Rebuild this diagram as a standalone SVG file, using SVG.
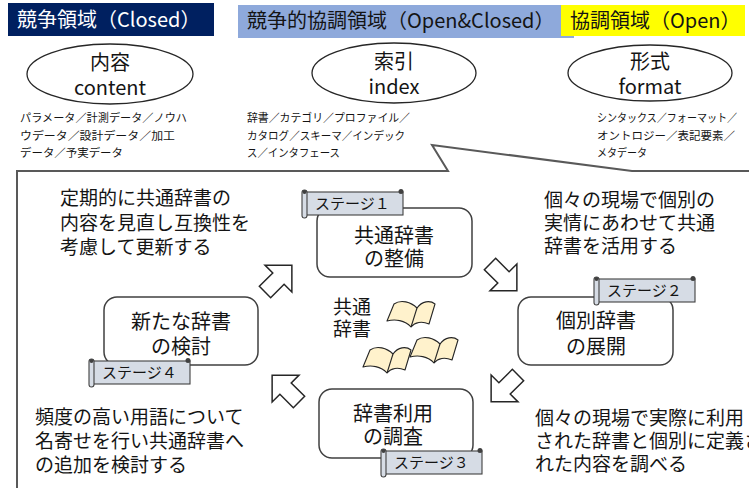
<svg xmlns="http://www.w3.org/2000/svg" xmlns:xlink="http://www.w3.org/1999/xlink" width="749" height="488" viewBox="0 0 749 488">
  <style>
    text { font-family: "Noto Sans CJK JP", "Noto Sans", sans-serif; fill: #141414; }
    .hdr { font-size: 20px; }
    .ell { fill: #fff; stroke: #262626; stroke-width: 1.3; }
    .ellt { font-size: 20px; text-anchor: middle; }
    .list { font-size: 11.2px; }
    .callout { fill: none; stroke: #595959; stroke-width: 2; }
    .desc { font-size: 19px; }
    .box { fill: #fff; stroke: #404040; stroke-width: 1.5; }
    .boxt { font-size: 20px; text-anchor: middle; }
    .stage { font-size: 15px; }
    .arrow { fill: #fff; stroke: #262626; stroke-width: 1.5; stroke-linejoin: miter; }
    .book { fill: #FFF2CC; stroke: #262626; stroke-width: 1.1; stroke-linejoin: round; }
    .roll { fill: #D6DCE5; stroke: #404040; stroke-width: 1.1; }
  </style>
  <defs>
    <!-- horizontal scroll banner used for the stage labels -->
    <g id="scroll">
      <rect class="roll" x="4" y="3" width="97" height="23"/>
      <rect class="roll" x="0" y="1" width="5" height="28" rx="2.5"/>
      <circle cx="2.5" cy="3" r="2" fill="#404040"/>
      <circle cx="99" cy="2.5" r="2.5" fill="#404040"/>
    </g>
    <!-- open book -->
    <g id="book">
      <path class="book" d="M0,0 L7,-17 C14,-22 24,-19 30,-13 C35,-20 43,-21 48,-17 L42,3 C35,0 28,1 24,6 C18,-1 8,-2 0,0 Z"/>
      <path class="book" d="M30,-13 L24,6" fill="none"/>
    </g>
    <!-- hollow block arrow pointing along +x -->
    <path id="blk" class="arrow" d="M0,-8 L19,-8 L19,-19 L38,0 L19,19 L19,8 L0,8 Z"/>
  </defs>

  <!-- header bands -->
  <g id="hdr-closed">
    <rect x="8" y="3" width="206" height="33" fill="#002060"/>
    <text class="hdr" x="17" y="27" style="fill:#fff">競争領域（Closed）</text>
  </g>
  <g id="hdr-mixed">
    <rect x="238" y="5" width="336" height="33" fill="#8EA9DB"/>
    <text class="hdr" x="247" y="28">競争的協調領域（Open&amp;Closed）</text>
  </g>
  <g id="hdr-open">
    <rect x="561" y="5" width="184" height="31" fill="#FFFF00"/>
    <text class="hdr" x="570" y="28">協調領域（Open）</text>
  </g>

  <!-- layers -->
  <g id="content">
    <ellipse class="ell" cx="110" cy="74" rx="83" ry="30"/>
    <text class="ellt" x="110" y="70">内容</text>
    <text class="ellt" x="110" y="95">content</text>
    <text class="list" x="20" y="122" textLength="167" lengthAdjust="spacingAndGlyphs">パラメータ／計測データ／ノウハ</text>
    <text class="list" x="20" y="140" textLength="155" lengthAdjust="spacingAndGlyphs">ウデータ／設計データ／加工</text>
    <text class="list" x="20" y="157" textLength="103" lengthAdjust="spacingAndGlyphs">データ／予実データ</text>
  </g>
  <g id="index">
    <ellipse class="ell" cx="394" cy="73" rx="82" ry="30"/>
    <text class="ellt" x="394" y="69">索引</text>
    <text class="ellt" x="394" y="94">index</text>
    <text class="list" x="247" y="122" textLength="163" lengthAdjust="spacingAndGlyphs">辞書／カテゴリ／プロファイル／</text>
    <text class="list" x="247" y="140" textLength="158" lengthAdjust="spacingAndGlyphs">カタログ／スキーマ／インデック</text>
    <text class="list" x="247" y="157" textLength="93" lengthAdjust="spacingAndGlyphs">ス／インタフェース</text>
  </g>
  <g id="format">
    <ellipse class="ell" cx="650" cy="73" rx="82" ry="28"/>
    <text class="ellt" x="650" y="69">形式</text>
    <text class="ellt" x="650" y="94">format</text>
    <text class="list" x="597" y="122" textLength="140" lengthAdjust="spacingAndGlyphs">シンタックス／フォーマット／</text>
    <text class="list" x="597" y="140" textLength="138" lengthAdjust="spacingAndGlyphs">オントロジー／表記要素／</text>
    <text class="list" x="597" y="157" textLength="50" lengthAdjust="spacingAndGlyphs">メタデータ</text>
  </g>

  <!-- callout frame pointing at the index layer -->
  <path class="callout" d="M17,495 L17,171 L448,171 L432,145 L632,171 L755,171"/>

  <!-- cycle descriptions -->
  <g id="desc-update">
    <text class="desc" x="60" y="205">定期的に共通辞書の</text>
    <text class="desc" x="60" y="230">内容を見直し互換性を</text>
    <text class="desc" x="60" y="254">考慮して更新する</text>
  </g>
  <g id="desc-apply">
    <text class="desc" x="544" y="207">個々の現場で個別の</text>
    <text class="desc" x="544" y="230">実情にあわせて共通</text>
    <text class="desc" x="544" y="253">辞書を活用する</text>
  </g>
  <g id="desc-review">
    <text class="desc" x="35" y="424">頻度の高い用語について</text>
    <text class="desc" x="35" y="448">名寄せを行い共通辞書へ</text>
    <text class="desc" x="35" y="472">の追加を検討する</text>
  </g>
  <g id="desc-survey">
    <text class="desc" x="535" y="425">個々の現場で実際に利用</text>
    <text class="desc" x="535" y="448">された辞書と個別に定義さ</text>
    <text class="desc" x="535" y="471">れた内容を調べる</text>
  </g>

  <!-- shared dictionary -->
  <g id="shared-dict">
    <text class="desc" x="333" y="314">共通</text>
    <text class="desc" x="333" y="336">辞書</text>
    <use xlink:href="#book" transform="translate(387,321)"/>
    <use xlink:href="#book" transform="translate(363,367)"/>
    <use xlink:href="#book" transform="translate(410,357)"/>
  </g>

  <!-- stages -->
  <g id="stage1">
    <rect class="box" x="317" y="208" width="155" height="69" rx="13"/>
    <text class="boxt" x="394" y="243">共通辞書</text>
    <text class="boxt" x="394" y="266">の整備</text>
    <use xlink:href="#scroll" transform="translate(302,189)"/>
    <text class="stage" x="315" y="209">ステージ１</text>
  </g>
  <g id="stage2">
    <rect class="box" x="518" y="297" width="155" height="68" rx="13"/>
    <text class="boxt" x="596" y="328">個別辞書</text>
    <text class="boxt" x="596" y="354">の展開</text>
    <use xlink:href="#scroll" transform="translate(594,276)"/>
    <text class="stage" x="607" y="296">ステージ２</text>
  </g>
  <g id="stage3">
    <rect class="box" x="319" y="389" width="154" height="69" rx="13"/>
    <text class="boxt" x="393" y="421">辞書利用</text>
    <text class="boxt" x="393" y="444">の調査</text>
    <use xlink:href="#scroll" transform="translate(381,448)"/>
    <text class="stage" x="394" y="468">ステージ３</text>
  </g>
  <g id="stage4">
    <rect class="box" x="104" y="297" width="154" height="68" rx="13"/>
    <text class="boxt" x="181" y="329">新たな辞書</text>
    <text class="boxt" x="181" y="354">の検討</text>
    <use xlink:href="#scroll" transform="translate(89,358)"/>
    <text class="stage" x="102" y="378">ステージ４</text>
  </g>

  <!-- cycle connectors -->
  <g id="connectors">
    <use xlink:href="#blk" transform="translate(265,292) rotate(-45)"/>
    <use xlink:href="#blk" transform="translate(490,264) rotate(45)"/>
    <use xlink:href="#blk" transform="translate(518,375) rotate(135)"/>
    <use xlink:href="#blk" transform="translate(299,402) rotate(-135)"/>
  </g>
</svg>
